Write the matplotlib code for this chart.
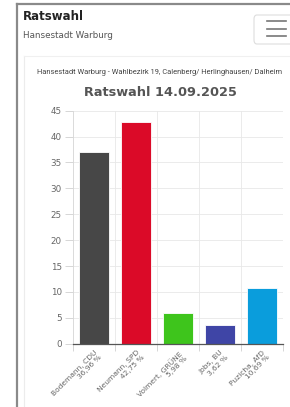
import matplotlib.pyplot as plt
from matplotlib.patches import FancyBboxPatch
from matplotlib.lines import Line2D

# data
kandidaten = ['Bodemann, CDU', 'Neumann, SPD', 'Volmert, GRÜNE', 'Jobs, BU', 'Puzicha, AfD']
prozent = [36.96, 42.75, 5.98, 3.62, 10.69]
farben = ['#474747', '#db0a28', '#3ec51c', '#3f45a6', '#0a9ddc']
yticks = [0, 5, 10, 15, 20, 25, 30, 35, 40, 45]

W, H = 290, 407
fig = plt.figure(figsize=(W / 100, H / 100), dpi=100)
fig.patch.set_facecolor('white')

def fx(x):
    return x / W

def fy(y):
    return 1 - y / H

# page frame / header
fig.add_artist(Line2D([fx(17), 1], [fy(4), fy(4)], color='#8a8a8a', lw=1.6))
fig.add_artist(Line2D([fx(17), fx(17)], [fy(4), 0], color='#8a8a8a', lw=1.6))
fig.add_artist(Line2D([fx(24), fx(24)], [fy(56), 0], color='#ececec', lw=0.8))
fig.add_artist(Line2D([fx(24), 1], [fy(56), fy(56)], color='#f0f0f0', lw=0.8))
fig.text(fx(23), fy(17), 'Ratswahl', fontsize=8.5, fontweight='bold', color='#222222', va='center')
fig.text(fx(23), fy(35), 'Hansestadt Warburg', fontsize=6.3, color='#555555', va='center')
fig.add_artist(FancyBboxPatch((fx(254), fy(44)), fx(50), fy(15) - fy(44),
                              boxstyle='round,pad=0,rounding_size=0.01',
                              transform=fig.transFigure, facecolor='white', edgecolor='#dddddd', lw=0.8))
for yy in [21, 28.5, 36]:
    fig.add_artist(Line2D([fx(267), fx(286)], [fy(yy), fy(yy)], color='#777777', lw=1.2))

# chart titles
fig.text(fx(160), fy(73), 'Hansestadt Warburg - Wahlbezirk 19, Calenberg/ Herlinghausen/ Dalheim',
         fontsize=5.4, color='#444444', ha='center', va='center',
         family=['Roboto', 'DejaVu Sans'])
fig.text(fx(160), fy(92), 'Ratswahl 14.09.2025', fontsize=9.3, fontweight='bold',
         color='#555555', ha='center', va='center')

# plot
ax = fig.add_axes([fx(73), fy(343.7), fx(283) - fx(73), fy(110.7) - fy(343.7)])
x = list(range(len(kandidaten)))
ax.bar(x, prozent, width=0.72, color=farben, edgecolor='white', linewidth=0.6, zorder=3)
ax.set_xlim(-0.5, len(kandidaten) - 0.5)
ax.set_ylim(0, 45)
ax.set_yticks(yticks)
ax.tick_params(axis='y', labelsize=6.3, labelcolor='#666666', color='#d0d0d0', length=6, width=0.6, pad=2)

labels = [f'{k}\n{str(p).replace(".", ",")} %' for k, p in zip(kandidaten, prozent)]
ax.set_xticks(x)
ax.set_xticklabels(labels, rotation=45, ha='right', rotation_mode='anchor',
                   fontsize=5.4, color='#666666', multialignment='right')
ax.tick_params(axis='x', length=0, pad=4)
ax.set_xticks([i - 0.5 for i in range(len(kandidaten) + 1)], minor=True)
ax.tick_params(axis='x', which='minor', length=5, color='#d0d0d0', width=0.6)
ax.grid(True, which='minor', axis='x', color='#e8e8e8', lw=0.6, zorder=0)
ax.grid(True, which='major', axis='y', color='#e8e8e8', lw=0.6, zorder=0)

for s in ['top', 'right']:
    ax.spines[s].set_visible(False)
ax.spines['left'].set_color('#d8d8d8')
ax.spines['left'].set_linewidth(0.6)
ax.spines['bottom'].set_color('#555555')
ax.spines['bottom'].set_linewidth(0.9)
ax.spines['bottom'].set_zorder(4)

fig.savefig('out.png', dpi=100)
